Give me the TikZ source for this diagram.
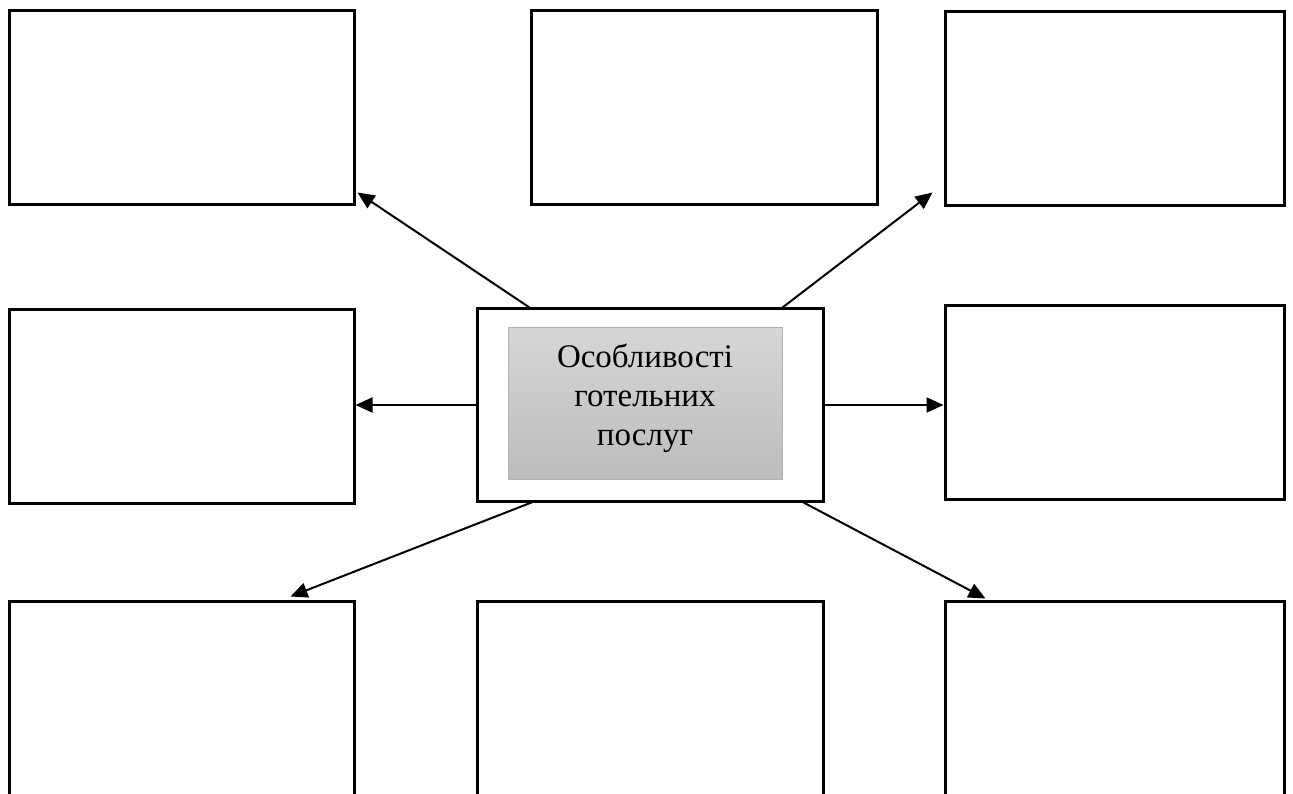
\documentclass[tikz,border=0pt]{standalone}
\usepackage{fontspec}
\setmainfont{Liberation Serif}
\usetikzlibrary{arrows.meta,calc}
\begin{document}
\begin{tikzpicture}[x=1pt,y=-1pt,
  box/.style={draw=black,line width=3pt,fill=white,inner sep=0pt,minimum width=345pt,minimum height=194pt},
  conn/.style={line width=2pt,-{Triangle[length=17pt,width=15pt]}},
  inner/.style={draw=black!30,line width=1pt,top color=black!16,bottom color=black!26,inner sep=0pt,
    minimum width=274pt,minimum height=152pt},
  lbl/.style={align=center,inner sep=0pt,font=\fontsize{33}{39}\selectfont}]
\useasboundingbox (0,0) rectangle (1293,794);
\node[box] (tl) at (181.5,108) {};
\node[box,minimum width=346pt] (tm) at (704,108) {};
\node[box,minimum width=339pt] (tr) at (1114.5,109) {};
\node[box,minimum height=193pt] (ml) at (181.5,406.5) {};
\node[box,minimum width=346pt,minimum height=192pt] (c) at (650,405) {};
\node[inner] (ci) at (645,403) {};
\node[lbl] (ct) at (645,398) {Особливості\\готельних\\послуг};
\node[box,minimum width=339pt,minimum height=193pt] (mr) at (1114.5,402.5) {};
\node[box,minimum height=195pt] (bl) at (181.5,698.5) {};
\node[box,minimum width=346pt,minimum height=195pt] (bm) at (650,698.5) {};
\node[box,minimum width=339pt,minimum height=195pt] (br) at (1114.5,698.5) {};
\draw[conn] ($(c.north west)+(54,0)$) -- ($(tl.south east)+(2,-14)$);
\draw[conn] ($(c.north east)+(-42,0)$) -- ($(tr.south west)+(-11,-15)$);
\draw[conn] (c.west) -- (ml.east |- c.west);
\draw[conn] (c.east) -- (mr.west |- c.east);
\draw[conn] ($(c.south west)+(56,0)$) -- ($(bl.north east)+(-65,-3)$);
\draw[conn] ($(c.south east)+(-21,0)$) -- ($(br.north west)+(42,-1)$);
\end{tikzpicture}
\end{document}
